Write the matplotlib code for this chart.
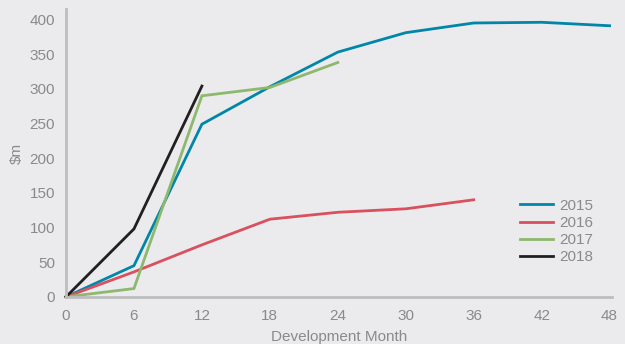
import matplotlib.pyplot as plt

plt.rcParams['font.family'] = ['Liberation Sans', 'DejaVu Sans']

months = [0, 6, 12, 18, 24, 30, 36, 42, 48]
years = ['2015', '2016', '2017', '2018']
values = {
    '2015': [0, 45, 249, 303, 353, 381, 395, 396, 391],
    '2016': [0, 36, 75, 112, 122, 127, 140],
    '2017': [0, 12, 290, 302, 338],
    '2018': [0, 98, 304],
}
colors = ['#0086A8', '#D9505F', '#8DB86E', '#231F20']

bg = '#EBEBED'
grey = '#8A8A8A'

fig = plt.figure(figsize=(6.25, 3.44), dpi=100, facecolor=bg)
ax = fig.add_axes([0.1056, 0.137, 0.8734, 0.8365], facecolor=bg)

for year, c in zip(years, colors):
    v = values[year]
    ax.plot(months[:len(v)], v, color=c, lw=2.0, label=year, clip_on=False,
            solid_joinstyle='miter')

ax.set_xlim(0, 48.2)
ax.set_ylim(0, 415)
ax.set_xticks(months)
ax.set_yticks(range(0, 401, 50))

for side in ['top', 'right']:
    ax.spines[side].set_visible(False)
for side in ['left', 'bottom']:
    ax.spines[side].set_color('#BDBDBD')
    ax.spines[side].set_linewidth(2)
ax.tick_params(length=0, colors=grey, labelsize=11)
ax.tick_params(axis='x', pad=9)
ax.tick_params(axis='y', pad=8)
ax.set_xlabel('Development Month', color=grey, fontsize=11, labelpad=5)
ax.set_ylabel('$m', color=grey, fontsize=11, labelpad=4)

leg = ax.legend(loc='upper left', bbox_to_anchor=(0.82, 0.362), frameon=False,
                fontsize=11, handlelength=2.2, labelspacing=0.2,
                handletextpad=0.4, borderaxespad=0)
for t in leg.get_texts():
    t.set_color(grey)

fig.savefig('out.png', dpi=100, facecolor=bg)
